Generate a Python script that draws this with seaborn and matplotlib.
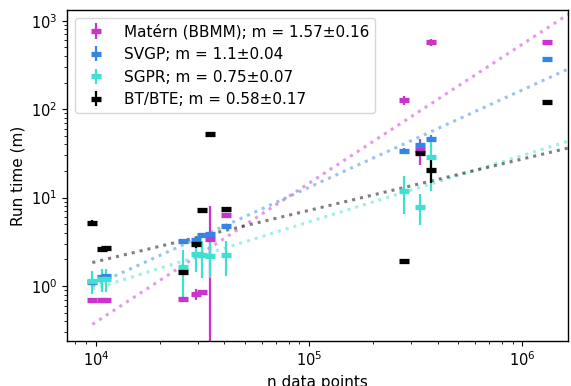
import numpy as np
import pandas as pd
import matplotlib
matplotlib.use("Agg")
import matplotlib.pyplot as plt
import seaborn as sns

# training set sizes (one per dataset)
n_points = [9600, 10623, 11122, 25600, 29267, 31249, 34240, 40709,
            278319, 329820, 373280, 1311539]

# run times in minutes
matern = [0.69, 0.69, 0.69, 0.71, 0.81, 0.85, 3.37, 6.35, 127, 34.5, 571, 580]
matern_err = [0.02, 0.02, 0.02, 0.04, 0.11, 0.05, 4.7, 0.4, 15, 11, 50, 20]

svgp = [1.12, 1.27, 1.30, 3.25, 3.31, 3.78, 3.84, 4.77, 34, 39.4, 46.4, 370]
svgp_err = [0.04, 0.05, 0.05, 0.12, 0.12, 0.15, 0.15, 0.25, 2.5, 3, 4, 15]

sgpr = [1.15, 1.20, 1.20, 1.65, 2.30, 2.24, 2.18, 2.24, 12.0, 7.9, 29.0, np.nan]
sgpr_err = [0.33, 0.35, 0.35, 0.9, 0.85, 1.0, 0.95, 0.95, 5.4, 3.0, 17, np.nan]

bt = [5.2, 2.6, 2.67, 1.45, 2.96, 7.24, 52.4, 7.49, 1.93, 32.2, 20.5, 120]
bt_err = [0.4, 0.15, 0.15, 0.05, 0.25, 0.3, 1.5, 0.4, 0.06, 3, 5.8, 4]

labels = ["Matérn (BBMM); m = 1.57±0.16", "SVGP; m = 1.1±0.04",
          "SGPR; m = 0.75±0.07", "BT/BTE; m = 0.58±0.17"]
colors = ["#cc33cc", "#3585e5", "#40e0d0", "black"]

# power-law fits: slope and log10(time) at n = 1e4
fit_slope = [1.57, 1.1, 0.75, 0.58]
fit_log_at_1e4 = [-0.406, 0.017, -0.024, 0.276]
fit_range = [9600, 1.8e6]

series = [(matern, matern_err), (svgp, svgp_err), (sgpr, sgpr_err), (bt, bt_err)]

sns.set_style("ticks")
plt.rcParams["font.family"] = ["DejaVu Sans"]
plt.rcParams["font.size"] = 10
plt.rcParams["text.color"] = "black"
plt.rcParams["axes.labelcolor"] = "black"

fig, ax = plt.subplots(figsize=(5.71, 3.86), dpi=100)
fig.subplots_adjust(left=0.118, right=0.994, top=0.974, bottom=0.117)
ax.set_xscale("log")
ax.set_yscale("log")

# dotted fit lines
rows = []
for lab, m, c in zip(labels, fit_slope, fit_log_at_1e4):
    for x in fit_range:
        rows.append({"n": x, "t": 10 ** (c + m * (np.log10(x) - 4)), "method": lab})
fit_df = pd.DataFrame(rows)
sns.lineplot(data=fit_df, x="n", y="t", hue="method", palette=dict(zip(labels, colors)),
             linestyle=":", linewidth=2.2, alpha=0.5, legend=False, ax=ax)

# measured run times with error bars
for (vals, errs), lab, col in zip(series, labels, colors):
    ax.errorbar(n_points, vals, yerr=errs, fmt="_", color=col, ms=7, mew=3.8,
                elinewidth=1.6, capsize=0, label=lab)

ax.set_xlim(7330, 1.63e6)
ax.set_ylim(0.24, 1320)
ax.set_xlabel("n data points", fontsize=11)
ax.set_ylabel("Run time (m)", fontsize=11)
for s in ax.spines.values():
    s.set_color("black")
    s.set_linewidth(1.0)
ax.tick_params(which="both", color="black", labelcolor="black", labelsize=10.5)
ax.legend(loc="upper left", fontsize=11)

plt.savefig("out.png", dpi=100)
plt.close()
